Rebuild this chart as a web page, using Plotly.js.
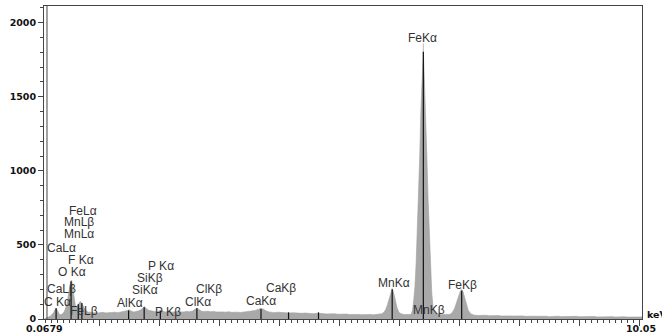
<!DOCTYPE html>
<html><head><meta charset="utf-8">
<script src="https://cdn.plot.ly/plotly-3.0.1.min.js"></script>
<style>html,body{margin:0;padding:0;background:#fff}#chart{width:662px;height:336px}</style>
</head><body><div id="chart"></div>
<script>
// ---- spectrum data (keV, counts) ----
const energy = [
0.07,0.09,0.11,0.13,0.15,0.17,0.19,0.21,0.23,0.25,0.27,0.29,0.31,0.33,0.35,0.37,0.39,0.41,0.43,0.45,
0.47,0.49,0.51,0.53,0.55,0.57,0.59,0.61,0.63,0.65,0.67,0.69,0.71,0.73,0.75,0.77,0.79,0.81,0.83,0.85,
0.87,0.89,0.91,0.93,0.95,0.97,0.99,
1.05,1.10,1.15,1.20,1.25,1.30,1.35,1.40,1.45,1.48,1.52,1.56,1.60,1.65,1.70,1.74,1.78,1.82,1.86,1.90,
1.95,2.01,2.05,2.10,2.15,2.20,2.25,2.30,2.35,2.40,2.45,2.50,2.55,2.59,2.62,2.66,2.70,2.75,2.80,2.85,
2.90,2.95,3.00,3.05,3.10,3.15,3.20,3.25,3.30,3.35,3.40,3.45,3.50,3.55,3.60,3.65,3.69,3.73,3.77,3.82,
3.87,3.92,3.97,4.02,4.07,4.12,4.17,4.22,4.27,4.32,4.37,4.42,4.47,4.52,4.57,4.62,4.67,4.72,4.77,4.82,
4.87,4.92,4.97,5.02,5.07,5.12,5.17,5.22,5.27,5.32,5.37,5.42,5.47,5.52,5.57,5.62,5.67,5.71,
5.74,5.77,5.80,5.83,5.86,5.88,5.90,5.93,5.96,5.99,6.03,6.07,6.11,6.15,6.18,
6.20,6.22,6.24,6.26,6.28,6.30,6.32,6.34,6.36,6.38,6.40,6.42,6.44,6.46,6.48,6.50,6.52,6.54,6.56,6.58,
6.62,6.66,6.70,6.74,6.78,6.82,6.85,6.88,6.92,6.96,6.99,7.02,7.04,7.06,7.09,7.12,7.15,7.19,7.24,
7.30,7.35,7.40,7.45,7.50,7.55,7.60,7.65,7.70,7.75,7.80,7.85,7.90,7.95,8.00,8.05,8.10,8.15,8.20,8.25,
8.30,8.35,8.40,8.45,8.50,8.55,8.60,8.65,8.70,8.75,8.80,8.85,8.90,8.95,9.00,9.05,9.10,9.15,9.20,9.25,
9.30,9.35,9.40,9.45,9.50,9.55,9.60,9.65,9.70,9.75,9.80,9.85,9.90,9.95,10.00,10.05
];
const counts = [
0,3,6,10,14,18,25,32,45,62,75,58,38,30,28,32,40,52,70,100,
150,205,250,262,205,140,95,80,95,110,118,112,100,82,66,55,50,46,48,44,
46,42,44,41,43,40,42,
45,41,44,42,46,43,47,50,56,62,54,47,50,55,66,84,70,58,55,50,
48,58,52,47,50,46,49,47,50,48,51,49,54,64,74,62,52,50,53,49,
51,47,50,48,46,49,45,48,46,44,47,45,48,52,58,66,72,66,55,48,
45,43,46,44,41,43,40,42,39,41,38,40,37,39,36,38,35,37,34,36,
33,35,32,34,31,33,30,32,30,31,29,31,28,30,28,30,31,36,
45,62,95,140,180,205,185,130,78,46,35,31,30,32,30,
34,60,130,220,380,600,850,1100,1420,1600,1805,1580,1380,1080,800,560,330,180,90,48,
35,30,29,31,28,30,33,42,70,120,160,190,200,188,145,95,58,36,27,
24,26,23,25,22,24,21,23,20,22,19,21,20,22,19,21,18,20,17,19,
18,20,17,19,16,18,17,19,16,17,15,17,16,18,15,16,14,16,15,17,
14,15,13,15,14,16,13,15,14,15,13,15,13,14,13,14
];
// element marker lines (keV, counts)
const markerEnergy = [0.27,0.52,0.64,0.70,1.48,1.74,2.01,2.62,3.69,4.15,4.65,5.88,6.40,7.04];
const markerHeight = [72,255,100,108,58,80,55,72,68,45,45,200,1805,190];
// peak label texts
const peakLabels = ['FeLα','MnLβ','MnLα','CaLα','F Kα','O Kα','CaLβ','C Kα','FeLβ',
  'P Kα','SiKβ','SiKα','AlKα','P Kβ','ClKβ','ClKα','CaKβ','CaKα','MnKα','MnKβ','FeKβ','FeKα'];
// y axis ticks
const yTickVals = [0,500,1000,1500,2000];
const xEndLabels = ['0.0679','10.05'];
const unitLabel = 'keV';

// ---- placement (keV, counts, pixel shift) of each label, separate from data ----
const labelPlacement = [
  [0.45,729,0],[0.37,655,0],[0.37,574,0],[0.085,479,0],[0.435,398,0],[0.27,317,0],[0.085,202,0],[0.07,115,-2],[0.47,54,0],
  [1.77,358,0],[1.59,277,0],[1.505,196,0],[1.253,108,0],[1.888,47,0],[2.57,202,0],[2.39,115,0],[3.74,209,0],[3.405,122,0],
  [5.61,243,0],[6.195,61,0],[6.78,229,0],[6.11,1897,0]
];

const markerX = [], markerY = [];
markerEnergy.forEach((e,i)=>{ markerX.push(e,e,null); markerY.push(0,markerHeight[i],null); });

const labelFont = {family:'Liberation Sans, Arial, sans-serif', size:12, color:'#333'};
const axisFont = {family:'DejaVu Sans, sans-serif', size:9.5, color:'#111', weight:'bold'};

const annotations = peakLabels.map((t,i)=>({
  x: labelPlacement[i][0], y: labelPlacement[i][1], xshift: labelPlacement[i][2], xref:'x', yref:'y',
  text: t, showarrow:false, xanchor:'left', yanchor:'middle', font: labelFont
}));
annotations.push({x:0.0679, y:0, xref:'x', yref:'paper', text:xEndLabels[0], showarrow:false,
  xanchor:'center', yanchor:'top', yshift:-2, font:axisFont});
annotations.push({x:10.05, y:0, xref:'x', yref:'paper', text:xEndLabels[1], showarrow:false,
  xanchor:'center', yanchor:'top', yshift:-2, xshift:-1, font:axisFont});
annotations.push({x:1, y:30, xref:'paper', yref:'y', text:unitLabel, showarrow:false,
  xanchor:'left', yanchor:'middle', xshift:3, font:axisFont});

const traces = [
  {x: energy, y: counts, type:'scatter', mode:'lines', fill:'tozeroy',
   fillcolor:'#a9a9a9', line:{color:'#a0a0a0', width:0.6}, hoverinfo:'skip'},
  {x: markerX, y: markerY, type:'scatter', mode:'lines',
   line:{color:'#111', width:1.2}, hoverinfo:'skip'}
];

const layout = {
  width:662, height:336,
  margin:{l:44, r:20, t:6, b:17},
  paper_bgcolor:'#fff', plot_bgcolor:'#fff',
  showlegend:false,
  xaxis:{range:[0.0679,10.05], showline:true, linecolor:'#444', linewidth:1, mirror:true,
    ticks:'outside', tick0:0, dtick:1, ticklen:6, tickcolor:'#444', tickwidth:1,
    showticklabels:false, showgrid:false, zeroline:false,
    minor:{ticks:'outside', dtick:0.1, tick0:0, ticklen:3, tickcolor:'#444', showgrid:false}},
  yaxis:{range:[0,2113], showline:true, linecolor:'#444', linewidth:1, mirror:true,
    ticks:'outside', tickvals:yTickVals, ticklen:5, tickcolor:'#444', tickwidth:1,
    tickfont:axisFont, showgrid:false, zeroline:false,
    minor:{ticks:'outside', dtick:100, tick0:0, ticklen:3, tickcolor:'#444', showgrid:false}},
  annotations: annotations,
  shapes:[
    {type:'line', xref:'paper', yref:'paper', x0:0.005, x1:0.005, y0:0, y1:1, line:{color:'#444', width:1}},
    {type:'line', xref:'x', yref:'y', x0:6.40, x1:6.40, y0:1805, y1:1860, line:{color:'#bbb', width:1}}
  ]
};

Plotly.newPlot('chart', traces, layout, {displayModeBar:false, staticPlot:true});
</script></body></html>
